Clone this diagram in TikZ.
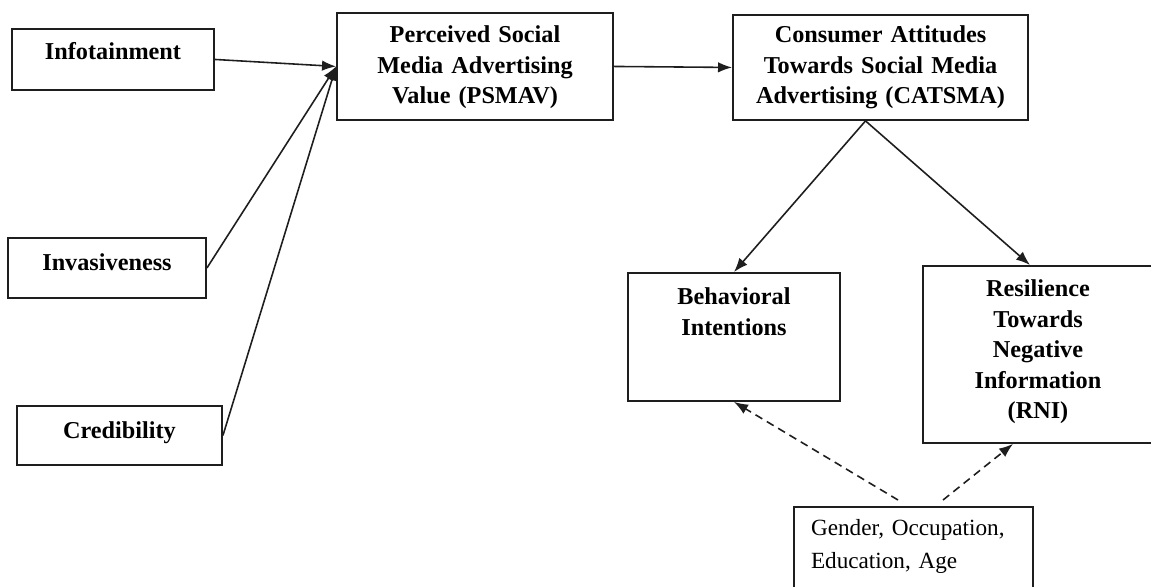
\documentclass[tikz,border=0pt]{standalone}
\usepackage{fontspec}
\setmainfont{Liberation Serif}
\usetikzlibrary{arrows.meta}
\definecolor{ink}{HTML}{1E1E1E}

\tikzset{
  varbox/.style={draw=ink,line width=1.1pt,inner sep=0pt,anchor=north,
    align=center,font=\bfseries\fontsize{13.8}{17.4}\selectfont},
  link/.style={->,ink,line width=0.9pt},
  ctrl/.style={->,ink,line width=0.9pt,dash pattern=on 4.5pt off 3pt},
}

\begin{document}
\begin{tikzpicture}[>={Latex[length=8pt,width=6pt]},x=0.02cm,y=-0.02cm]
 \useasboundingbox (0,0) rectangle (1151,587);
 % predictors
 \node[varbox,text width=4.04cm,text height=0.61cm,text depth=0.61cm]
   (info) at (113,28) {Infotainment};
 \node[varbox,text width=3.96cm,text height=0.65cm,text depth=0.55cm]
   (inva) at (107,237) {Invasiveness};
 \node[varbox,text width=4.10cm,text height=0.65cm,text depth=0.53cm]
   (cred) at (119.5,405) {Credibility};
 % mediators
 \node[varbox,text width=5.52cm,text height=0.59cm,text depth=1.55cm]
   (psmav) at (475,12) {Perceived Social\\Media Advertising\\Value (PSMAV)};
 \node[varbox,text width=5.90cm,text height=0.55cm,text depth=1.55cm]
   (catsma) at (880.5,14) {Consumer Attitudes\\Towards Social Media\\Advertising (CATSMA)};
 % outcomes
 \node[varbox,text width=4.24cm,text height=0.63cm,text depth=1.93cm]
   (bi) at (734,272) {Behavioral\\Intentions};
 \node[varbox,text width=4.60cm,text height=0.61cm,text depth=2.93cm]
   (rni) at (1038,265) {Resilience\\Towards\\Negative\\Information\\(RNI)};
 \node[varbox,align=left,font=\fontsize{13.2}{18.7}\selectfont,
       inner xsep=0.34cm,text width=4.10cm,text height=0.58cm,text depth=1.08cm]
   (demo) at (913.5,506) {Gender, Occupation,\\Education, Age};

 \draw[link] (info.east) -- (psmav.west);
 \draw[link] (inva.east) -- (psmav.west);
 \draw[link] (cred.east) -- (psmav.west);
 \draw[link] (psmav.east) -- (catsma.west);
 \draw[link] ([xshift=-0.3cm]catsma.south) -- (bi.north);
 \draw[link] ([xshift=-0.3cm]catsma.south) -- ([xshift=-0.16cm]rni.north);
 \draw[ctrl] ([xshift=-0.31cm,yshift=0.12cm]demo.north) -- (bi.south);
 \draw[ctrl] ([xshift=0.59cm,yshift=0.12cm]demo.north) -- ([xshift=-0.5cm]rni.south);
\end{tikzpicture}
\end{document}
